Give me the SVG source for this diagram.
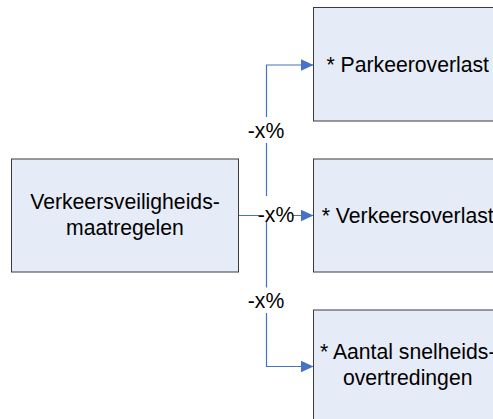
<svg xmlns="http://www.w3.org/2000/svg" width="493" height="419" viewBox="0 0 493 419">
  <style>
    .box { fill: #E6ECF7; stroke: #3A3A3A; stroke-width: 1; }
    .txt { font-family: "Liberation Sans", Arial, sans-serif; font-size: 21.2px; fill: #000; text-anchor: middle; }
    .conn { fill: none; stroke: #4472C4; stroke-width: 1.2; }
    .lblbg { fill: #FFFFFF; stroke: none; }
  </style>
  <defs>
    <marker id="arrow" viewBox="0 0 13 12" refX="13" refY="6" markerWidth="13" markerHeight="12" markerUnits="userSpaceOnUse" orient="auto">
      <path d="M0,0 L13,6 L0,12 Z" fill="#4472C4"/>
    </marker>
  </defs>
  <rect width="493" height="419" fill="#FFFFFF"/>

  <g id="connectors">
    <path class="conn" d="M238.5,215.5 H266.5 V65 H313.5" marker-end="url(#arrow)"/>
    <path class="conn" d="M238.5,215.5 H313.5" marker-end="url(#arrow)"/>
    <path class="conn" d="M238.5,215.5 H266.5 V366.5 H313.5" marker-end="url(#arrow)"/>
    <g id="labels">
      <rect class="lblbg" x="248" y="117" width="36" height="26"/>
      <text class="txt" x="266" y="138">-x%</text>
      <rect class="lblbg" x="259" y="196" width="34" height="25"/>
      <text class="txt" x="276" y="221.7">-x%</text>
      <rect class="lblbg" x="248" y="287.5" width="36" height="25.5"/>
      <text class="txt" x="266" y="307.5">-x%</text>
    </g>
  </g>

  <g id="node-maatregelen">
    <rect class="box" x="11.5" y="159" width="227" height="113"/>
    <text class="txt" x="125" y="209">Verkeersveiligheids-</text>
    <text class="txt" x="125" y="235">maatregelen</text>
  </g>

  <g id="node-parkeeroverlast">
    <rect class="box" x="313.5" y="7.5" width="188" height="113.5"/>
    <text class="txt" x="407.7" y="72">* Parkeeroverlast</text>
  </g>

  <g id="node-verkeersoverlast">
    <rect class="box" x="313.5" y="159" width="188" height="113"/>
    <text class="txt" x="407.7" y="222.5">* Verkeersoverlast</text>
  </g>

  <g id="node-snelheidsovertredingen">
    <rect class="box" x="313.5" y="310" width="188" height="113"/>
    <text class="txt" x="407.7" y="359">* Aantal snelheids-</text>
    <text class="txt" x="407.7" y="385">overtredingen</text>
  </g>
</svg>
